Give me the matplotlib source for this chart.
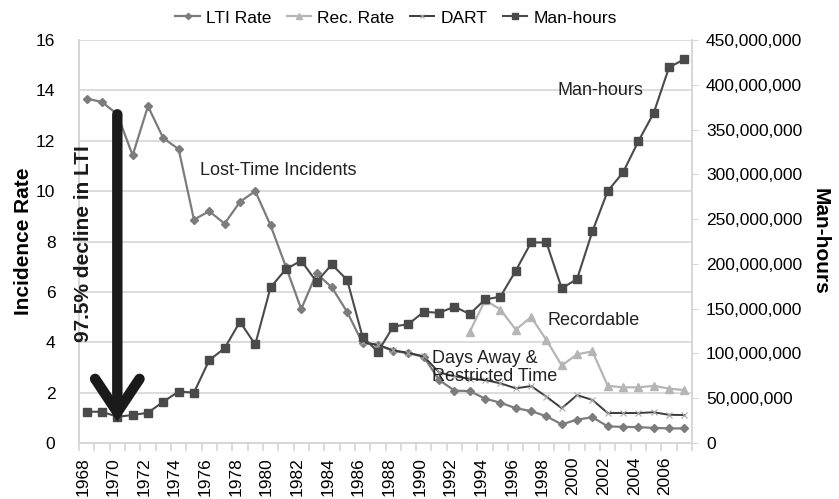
import matplotlib
matplotlib.use("Agg")
import matplotlib.pyplot as plt
import matplotlib.transforms as mtransforms
from matplotlib.ticker import FuncFormatter, MultipleLocator, FixedLocator

plt.rcParams['font.family'] = ['Liberation Sans', 'DejaVu Sans']

years = list(range(1968, 2008))

lti_rate = [13.67, 13.54, 13.05, 11.42, 13.37, 12.1, 11.67, 8.87, 9.2, 8.71,
            9.57, 10.0, 8.64, 7.0, 5.32, 6.73, 6.18, 5.2, 3.97, 3.89,
            3.66, 3.56, 3.42, 2.5, 2.08, 2.06, 1.76, 1.6, 1.38, 1.27,
            1.06, 0.74, 0.93, 1.02, 0.66, 0.64, 0.63, 0.6, 0.58, 0.58]

rec_years = list(range(1993, 2008))
rec_rate = [4.42, 5.67, 5.3, 4.5, 5.0, 4.09, 3.08, 3.52, 3.64, 2.27,
            2.21, 2.21, 2.27, 2.16, 2.1]

dart_years = list(range(1986, 2008))
dart_rate = [4.0, 3.9, 3.68, 3.58, 3.44, 2.8, 2.65, 2.55, 2.5, 2.37,
             2.17, 2.26, 1.84, 1.38, 1.9, 1.71, 1.19, 1.19, 1.19, 1.22,
             1.12, 1.11]

man_hours = [34.9, 34.9, 29.3, 31.2, 33.8, 46.1, 57.4, 56.3, 92.5, 105.8,
             135.3, 110.0, 173.8, 194.1, 203.6, 180.0, 199.4, 182.0, 118.7, 101.8,
             129.9, 132.8, 146.5, 145.4, 152.2, 144.0, 160.3, 163.4, 192.4, 223.9,
             223.9, 172.7, 183.1, 236.3, 281.3, 302.1, 336.9, 368.4, 419.3, 428.6]
man_hours = [m * 1e6 for m in man_hours]

fig = plt.figure(figsize=(8.39, 4.99), dpi=100)
ax = fig.add_axes([79 / 839, 1 - 443 / 499, 613 / 839, 403 / 499])
ax2 = ax.twinx()

grid_c = '#d6d6d6'
l1, = ax.plot(years, lti_rate, color='#7c7c7c', lw=1.6, marker='D', ms=4, label='LTI Rate', zorder=3)
l2, = ax.plot(rec_years, rec_rate, color='#b5b5b5', lw=1.6, marker='^', ms=5.5, label='Rec. Rate', zorder=3)
l3, = ax.plot(dart_years, dart_rate, color='#3c3c3c', lw=1.4, marker='x', ms=4, mec='#a8a8a8',
              mew=0.8, label='DART', zorder=3)
l4, = ax2.plot(years, man_hours, color='#4a4a4a', lw=1.5, marker='s', ms=6, label='Man-hours', zorder=3)

ax.set_xlim(1967.5, 2007.5)
ax.set_ylim(0, 16)
ax.yaxis.set_major_locator(MultipleLocator(2))
ax.grid(axis='y', color=grid_c, lw=1.2)
ax.set_axisbelow(True)
ax2.set_ylim(0, 450e6)
ax2.yaxis.set_major_locator(MultipleLocator(50e6))
ax2.yaxis.set_major_formatter(FuncFormatter(lambda v, p: f'{int(v):,}'))

ax.set_xticks(list(range(1968, 2007, 2)))
ax.set_xticklabels([str(y) for y in range(1968, 2007, 2)], rotation=90)
ax.xaxis.set_minor_locator(FixedLocator([y + 0.5 for y in range(1967, 2008)]))
ax.tick_params(axis='x', which='major', length=0, labelsize=12.5, pad=10)
ax.tick_params(axis='x', which='minor', length=6, color=grid_c, width=1.2)
ax.tick_params(axis='y', length=0, labelsize=12.5, pad=17)
ax2.tick_params(axis='y', length=4, color=grid_c, labelsize=12.5, pad=6)

# shift the year labels slightly left, as in the original
shift = mtransforms.ScaledTranslation(-4 / 100, 0, fig.dpi_scale_trans)
for lab in ax.get_xticklabels():
    lab.set_transform(lab.get_transform() + shift)

for a in (ax, ax2):
    a.spines['top'].set_visible(False)
    for s in ('left', 'right', 'bottom'):
        a.spines[s].set_color(grid_c)
        a.spines[s].set_linewidth(1.2)

ax.set_ylabel('Incidence Rate', fontsize=15, fontweight='bold', labelpad=2)
ax2.set_ylabel('Man-hours', fontsize=15, fontweight='bold', rotation=270, labelpad=20)

# annotations
ax2.annotate('', xy=(1970, 0.85), xytext=(1970, 13.05), xycoords=ax.transData,
             textcoords=ax.transData,
             arrowprops=dict(arrowstyle='->, head_length=2.4, head_width=1.6',
                             mutation_scale=10, lw=7.5, color='#1a1a1a',
                             shrinkA=0, shrinkB=0, joinstyle='miter'),
             zorder=5)
ax2.text(1967.8, 7.9, '97.5% decline in LTI', transform=ax.transData, rotation=90,
         fontsize=15, fontweight='bold', ha='center', va='center', color='#1a1a1a', zorder=6)
ax.text(1975.4, 10.8, 'Lost-Time Incidents', fontsize=13, ha='left', va='center', color='#222222')
ax.text(1998.75, 14.0, 'Man-hours', fontsize=13, ha='left', va='center', color='#222222')
ax.text(1998.1, 4.88, 'Recordable', fontsize=13, ha='left', va='center', color='#222222')
ax.text(1990.55, 3.0, 'Days Away &\nRestricted Time', fontsize=13, ha='left', va='center',
        color='#222222', linespacing=1.1)

fig.legend(handles=[l1, l2, l3, l4], loc='center', bbox_to_anchor=(396 / 839, 1 - 18 / 499),
           ncol=4, frameon=False, fontsize=12.5, handlelength=1.4, handletextpad=0.35,
           columnspacing=0.9, markerscale=0.8)

fig.savefig('out.png', dpi=100)
